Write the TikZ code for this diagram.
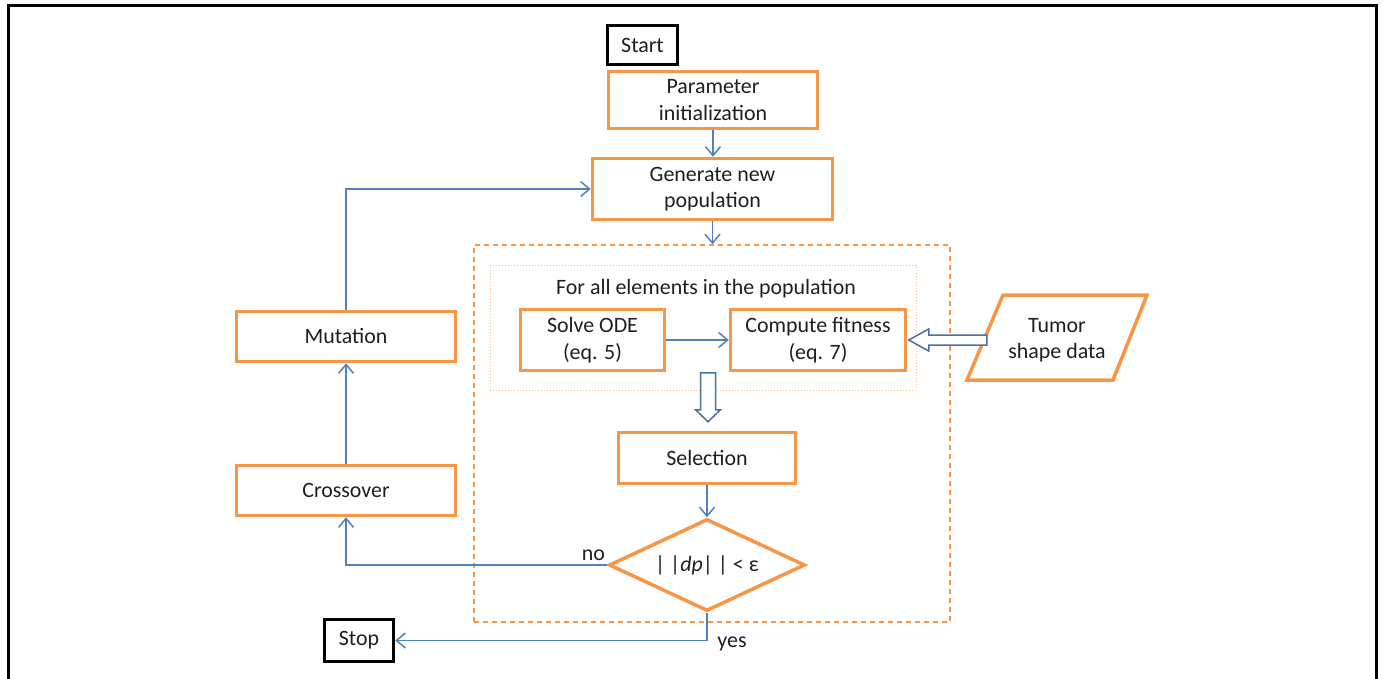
\documentclass[tikz,border=0pt]{standalone}
\usepackage{fontspec}
\setmainfont{Carlito}
\usetikzlibrary{arrows.meta,calc,shapes.geometric}
\definecolor{orng}{HTML}{F79646}
\definecolor{lorng}{HTML}{FAC090}
\definecolor{lblue}{HTML}{4F81BD}
\definecolor{dblue}{HTML}{4A6FA5}
\definecolor{txt}{HTML}{1F1F1F}
\begin{document}
\begin{tikzpicture}[x=1bp,y=-1bp,
  font=\fontsize{22}{26.5}\selectfont,
  box/.style={draw=orng, line width=3.5bp, align=center, inner sep=0pt, text=txt, fill=white},
  term/.style={draw=black, line width=3.5bp, align=center, inner sep=0pt, text=txt, fill=white},
  conn/.style={draw=lblue, line width=1.5bp, -{Straight Barb[length=9bp,width=15bp]}},
  hollow/.style={draw=dblue, line width=1.5bp, fill=white, line join=miter},
  lbl/.style={text=txt, inner sep=0pt}]
\useasboundingbox (0,0) rectangle (1383,679);
% outer frame
\draw[black, line width=3bp] (8,679) -- (8,6) -- (1376,6) -- (1376,679);
% containers
\node[draw=orng, line width=1.5bp, dash pattern=on 5bp off 4bp, minimum width=476bp, minimum height=377bp, inner sep=0pt] (outer) at (712,433.5) {};
\node[draw=lorng, line width=1bp, dotted, minimum width=426bp, minimum height=125bp, inner sep=0pt] (inner) at (703,327.5) {};
\node[lbl] (title) at (706,289) {For all elements in the population};
% nodes
\node[term, minimum width=70bp, minimum height=39bp] (start) at (642.5,45) {Start};
\node[box, minimum width=209bp, minimum height=57bp] (param) at (713,100) {Parameter\\initialization};
\node[box, minimum width=240bp, minimum height=61bp] (gen) at (712.5,189) {Generate new\\population};
\node[box, minimum width=144bp, minimum height=61bp] (solve) at (592.5,340) {Solve ODE\\(eq. 5)};
\node[box, minimum width=175bp, minimum height=61bp] (fit) at (818,340) {Compute fitness\\(eq. 7)};
\node[box, minimum width=177bp, minimum height=51bp] (sel) at (707,458) {Selection};
\node[box, diamond, shape aspect=2.1, minimum width=196bp, minimum height=92bp] (dec) at (707,565) {| |\textit{dp}| | < ε};
\node[box, minimum width=219bp, minimum height=50bp] (mut) at (346,336.5) {Mutation};
\node[box, minimum width=219bp, minimum height=50bp] (cross) at (346,490.5) {Crossover};
\node[term, minimum width=69bp, minimum height=42bp] (stop) at (359,640.5) {Stop};
% tumor data parallelogram
\node[lbl, align=center] (tum) at (1057,340) {Tumor\\shape data};
\draw[orng, line width=3.5bp, line join=miter] (967,380) -- (1003,295) -- (1147,295) -- (1113,380) -- cycle;
% connectors
\draw[conn] (param.south) -- (param.south |- gen.north);
\draw[conn] (gen.south) -- (gen.south |- outer.north);
\draw[conn] (solve.east) -- (fit.west);
\draw[conn] (sel.south) -- (dec.north);
\draw[conn] (dec.west) -| (cross.south);
\draw[conn] (dec.south) |- (stop.east);
\draw[conn] (cross.north) -- (mut.south);
\draw[conn] (mut.north) |- (gen.west);
\node[lbl, anchor=south east] (no) at ($(dec.west)+(-2,-4)$) {no};
\node[lbl] (yes) at (732,644) {yes};
% hollow arrows
\coordinate (ftip) at ($(fit.east)+(1.5,0)$);
\draw[hollow] (ftip) -- ++(20,-11) -- ++(0,6) -- ++(58,0) -- ++(0,10) -- ++(-58,0) -- ++(0,6) -- cycle;
\coordinate (dtip) at ($(sel.north)+(1,-9)$);
\draw[hollow] (dtip) -- ++(-12.5,-12) -- ++(5,0) -- ++(0,-37) -- ++(15,0) -- ++(0,37) -- ++(5,0) -- cycle;
\end{tikzpicture}
\end{document}
